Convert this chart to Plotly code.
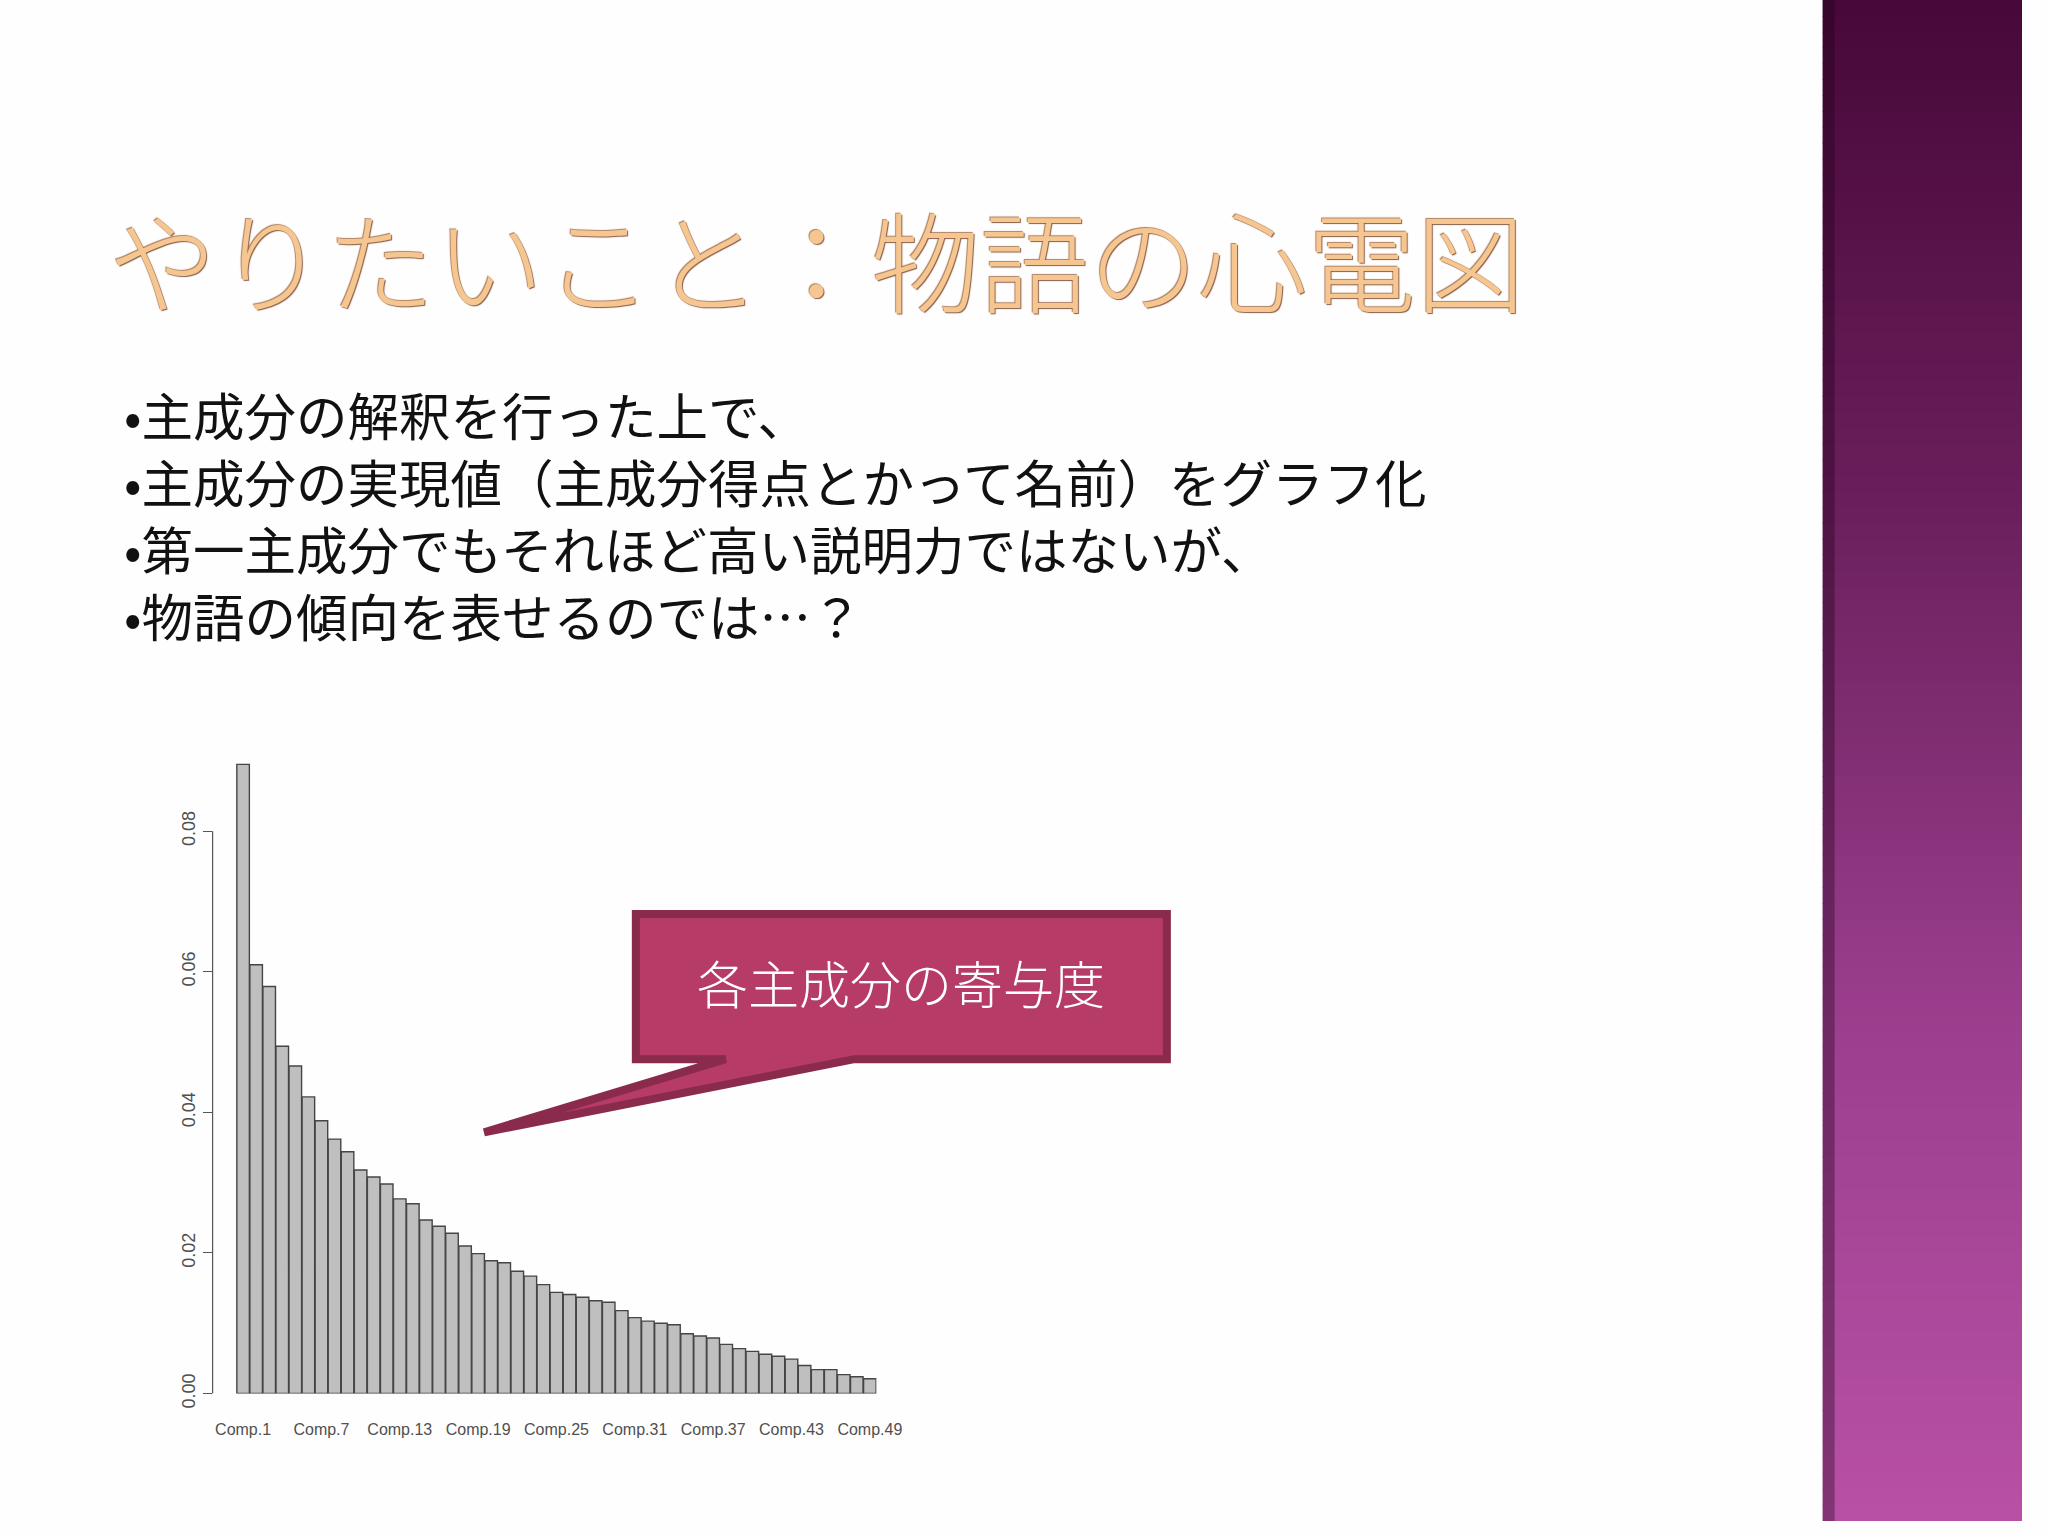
import plotly.graph_objects as go

# ---------------- data ----------------
categories = [f"Comp.{i}" for i in range(1, 50)]
contribution = [
    0.0895, 0.0610, 0.0579, 0.0494, 0.0466, 0.0422, 0.0388, 0.0362, 0.0344, 0.0318,
    0.0308, 0.0298, 0.0277, 0.0270, 0.0247, 0.0238, 0.0228, 0.0210, 0.0199, 0.0189,
    0.0186, 0.0174, 0.0167, 0.0155, 0.0144, 0.0141, 0.0137, 0.0132, 0.0130, 0.0118,
    0.0108, 0.0103, 0.0100, 0.0098, 0.0085, 0.0082, 0.0079, 0.0070, 0.0064, 0.0060,
    0.0056, 0.0053, 0.0049, 0.0040, 0.0034, 0.0034, 0.0027, 0.0024, 0.0021,
]
x_tick_labels = ["Comp.1", "Comp.7", "Comp.13", "Comp.19", "Comp.25",
                 "Comp.31", "Comp.37", "Comp.43", "Comp.49"]
y_tick_values = [0.00, 0.02, 0.04, 0.06, 0.08]
y_tick_labels = ["0.00", "0.02", "0.04", "0.06", "0.08"]

title_text = "やりたいこと：物語の心電図"
bullet_lines = [
    "•主成分の解釈を行った上で、",
    "•主成分の実現値（主成分得点とかって名前）をグラフ化",
    "•第一主成分でもそれほど高い説明力ではないが、",
    "•物語の傾向を表せるのでは…？",
]
callout_text = "各主成分の寄与度"

# ---------------- layout helpers (reference slide is 2048 x 1536) ----------------
W, H = 2048, 1536
K = 1.011  # small correction for the capture scale
def X(px):
    return px * K / W
def Y(py):
    return 1 - py * K / H

fig = go.Figure()
fig.add_trace(go.Bar(
    x=categories, y=contribution,
    marker=dict(color="#bfbfbf", line=dict(color="#454545", width=1.4)),
    hoverinfo="x+y",
))

shapes = []
# right-hand purple gradient panel
grad_stops = [(0.0, (0x47, 0x08, 0x38)), (0.33, (0x6a, 0x1f, 0x5c)),
              (0.66, (0x9a, 0x3e, 0x8c)), (1.0, (0xb8, 0x50, 0xa6))]
def grad_color(t):
    for (t0, c0), (t1, c1) in zip(grad_stops[:-1], grad_stops[1:]):
        if t0 <= t <= t1:
            f = (t - t0) / (t1 - t0)
            return "rgb(%d,%d,%d)" % tuple(round(a + (b - a) * f) for a, b in zip(c0, c1))
    return "rgb(%d,%d,%d)" % grad_stops[-1][1]

n_strips = 96
for i in range(n_strips):
    shapes.append(dict(type="rect", xref="paper", yref="paper",
                       x0=X(1826), x1=1.0, y0=1 - i / n_strips,
                       y1=max(0.0, 1 - (i + 1.05) / n_strips),
                       fillcolor=grad_color((i + 0.5) / n_strips), line=dict(width=0),
                       layer="below"))
# dark shadow at panel's left edge
shapes.append(dict(type="rect", xref="paper", yref="paper",
                   x0=X(1826), x1=X(1838), y0=0, y1=1,
                   fillcolor="rgba(30,0,25,0.35)", line=dict(width=0), layer="below"))

# R-style y axis line from 0 to 0.08
shapes.append(dict(type="line", xref="x domain", yref="y",
                   x0=0, x1=0, y0=0, y1=0.08,
                   line=dict(color="#555555", width=1.2)))

# callout balloon
pts = [(637, 913), (1169, 913), (1169, 1058), (856, 1058), (485, 1131), (727, 1058), (637, 1058)]
path = "M " + " L ".join(f"{X(px):.5f},{Y(py):.5f}" for px, py in pts) + " Z"
shapes.append(dict(type="path", xref="paper", yref="paper", path=path,
                   fillcolor="#b73b67", line=dict(color="#8a2a4c", width=8), layer="above"))

annotations = []
annotations.append(dict(
    text=title_text, xref="paper", yref="paper", x=X(106), y=Y(257),
    xanchor="left", yanchor="middle", showarrow=False,
    font=dict(family="Noto Sans CJK JP", size=109, color="#f6c690", weight=300,
              shadow="1px 1px 1px #8a5c46, -1px -1px 1px #b08060"),
))
# body text as one block (4 lines)
annotations.append(dict(
    text="<br>".join(bullet_lines), xref="paper", yref="paper", x=X(122), y=Y(513),
    xanchor="left", yanchor="middle", align="left", showarrow=False,
    font=dict(family="Noto Sans CJK JP", size=51.5, color="#111111"),
))
annotations.append(dict(
    text=callout_text, xref="paper", yref="paper", x=X(903), y=Y(981),
    xanchor="center", yanchor="middle", showarrow=False,
    font=dict(family="Noto Sans CJK JP", size=51, color="#ffffff", weight=300),
))

px_per_bar = (878 - 237) / 49
left_pad = (237 - 213) / px_per_bar

fig.update_layout(
    autosize=True,
    margin=dict(l=0, r=0, t=0, b=0),
    paper_bgcolor="#fefefe", plot_bgcolor="rgba(0,0,0,0)",
    showlegend=False, bargap=0.04,
    shapes=shapes, annotations=annotations,
    xaxis=dict(domain=[X(213), X(878)], range=[-0.5 - left_pad, 48.5],
               tickmode="array", tickvals=x_tick_labels, ticktext=x_tick_labels,
               showline=False, showgrid=False, zeroline=False, ticks="",
               ticklabelstandoff=24, tickangle=0,
               tickfont=dict(family="Liberation Sans Narrow, Liberation Sans", size=16, color="#505050")),
    yaxis=dict(domain=[Y(1392), Y(760)], range=[0, 0.09],
               tickmode="array", tickvals=y_tick_values, ticktext=y_tick_labels,
               showline=False, showgrid=False, zeroline=False,
               ticks="outside", ticklen=9, tickcolor="#555555", tickwidth=1.2,
               tickangle=-90,
               tickfont=dict(family="Liberation Sans Narrow, Liberation Sans", size=18, color="#505050")),
)

page_js = (
    "document.documentElement.style.margin='0';"
    "document.body.style.margin='0';"
    "document.body.style.overflow='hidden';"
    "Plotly.Plots.resize(document.getElementById('{plot_id}'));"
)

fig.write_html(
    "out.html",
    default_width="100vw",
    default_height="100vh",
    config={"responsive": True, "displayModeBar": False},
    post_script=page_js,
)
